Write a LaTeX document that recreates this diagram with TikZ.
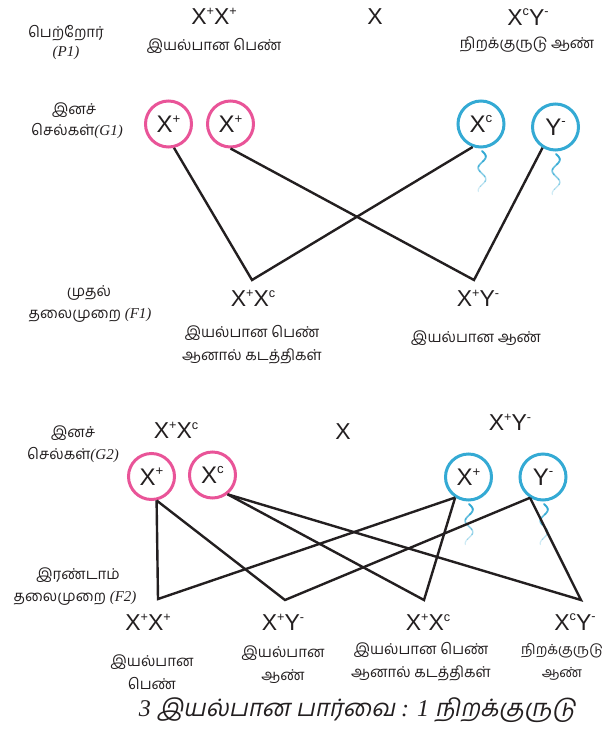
\documentclass[tikz,border=0pt]{standalone}
\usepackage{fontspec}
\setmainfont{Liberation Serif}
\newfontfamily\ta[Script=Tamil]{Hind Madurai}
\newfontfamily\tait[Script=Tamil,FakeSlant=0.2]{Hind Madurai}
\newfontfamily\ar{Liberation Sans}
\usetikzlibrary{calc}
\definecolor{pk}{RGB}{233,84,152}
\definecolor{bl}{RGB}{52,170,212}
\definecolor{ln}{RGB}{35,31,32}
\newcommand{\gsup}[1]{\raisebox{0.40em}{\scalebox{0.55}{#1}}}
\newcommand{\spermtail}[2]{%
  \foreach \i in {0,...,7}{%
    \pgfmathsetmacro{\op}{1-\i*0.11}%
    \pgfmathsetmacro{\lw}{1.9-\i*0.1}%
    \draw[bl, line width=\lw pt, opacity=\op, line cap=round]
      plot[domain={\i*5}:{\i*5+5.5}, samples=6, smooth] ({#1+3.8*sin(\x*16)}, {#2+\x});
  }%
}
\begin{document}
\begin{tikzpicture}[x=1pt, y=-1pt,
  geno/.style={font=\ar\fontsize{23}{25}\selectfont, inner sep=0pt, text=ln},
  tam/.style={font=\ta\fontsize{15}{17}\selectfont, align=center, inner sep=0pt, text=ln},
  egg/.style={circle, draw=pk, line width=3pt, minimum size=46pt, inner sep=0pt,
              font=\ar\fontsize{24}{26}\selectfont, text=ln},
  sperm/.style={egg, draw=bl},
  conn/.style={draw=ln, line width=2.4pt, line join=miter}]
\useasboundingbox (0,0) rectangle (605,731);

% ---- Parents
\node[tam] (p1a) at (66,33) {பெற்றோர்};
\node[tam] (p1b) at (66,53) {\itshape\rmfamily (P1)};
\node[geno] (pf) at (214,16) {X\gsup{+}X\gsup{+}};
\node[tam] (pfl) at (214,46) {இயல்பான பெண்};
\node[geno] (px) at (375,17) {X};
\node[geno] (pm) at (528,17) {X\gsup{c}Y\gsup{-}};
\node[tam] (pml) at (527,45) {நிறக்குருடு ஆண்};

% ---- G1
\node[tam] (g1l1) at (74,110) {இனச்};
\node[tam] (g1l2) at (77,131) {செல்கள்{\rmfamily\itshape(G1)}};
\node[egg] (g1a) at (168.5,124) {X\gsup{+}};
\node[egg] (g1b) at (230.5,124) {X\gsup{+}};
\node[sperm] (g1c) at (481,124) {X\gsup{c}};
\node[sperm] (g1d) at (555.5,127) {Y\gsup{-}};
\spermtail{482}{151}
\spermtail{556}{154}

% ---- F1
\coordinate (f1a) at (252,280);
\coordinate (f1b) at (474,280);
\draw[conn] (g1a.-77) -- (f1a) -- (g1c.-110);
\draw[conn] (g1b.-90) -- (f1b) -- (g1d.-122);
\node[tam] (f1l1) at (89,293) {முதல்};
\node[tam] (f1l2) at (90,315) {தலைமுறை {\rmfamily\itshape(F1)}};
\node[geno] (f1g1) at (253,298) {X\gsup{+}X\gsup{c}};
\node[tam] (f1t1) at (252,345) {இயல்பான பெண்\\[6pt]ஆனால் கடத்திகள்};
\node[geno] (f1g2) at (478,298) {X\gsup{+}Y\gsup{-}};
\node[tam] (f1t2) at (476,338) {இயல்பான ஆண்};

% ---- G2
\node[tam] (g2l1) at (73,433) {இனச்};
\node[tam] (g2l2) at (73,455) {செல்கள்{\rmfamily\itshape(G2)}};
\node[geno] (g2f) at (176,430) {X\gsup{+}X\gsup{c}};
\node[geno] (g2x) at (343,432) {X};
\node[geno] (g2m) at (510,422) {X\gsup{+}Y\gsup{-}};
\node[egg] (g2a) at (151.5,476.5) {X\gsup{+}};
\node[egg] (g2b) at (212.5,475) {X\gsup{c}};
\node[sperm] (g2c) at (468.5,477) {X\gsup{+}};
\node[sperm] (g2d) at (543,477) {Y\gsup{-}};
\spermtail{469}{504}
\spermtail{544}{504}

% ---- F2
\coordinate (f2a) at (158,599);
\coordinate (f2b) at (285,600);
\coordinate (f2c) at (424,600);
\coordinate (f2d) at (581,600);
\draw[conn] (g2a.-78) -- (f2a) -- (g2c.-123);
\draw[conn] (g2a.-78) -- (f2b) -- (g2d.-122);
\draw[conn] (g2b.-52) -- (f2c) -- (g2c.-123);
\draw[conn] (g2b.-52) -- (f2d) -- (g2d.-122);
\node[tam] (f2l1) at (78,575) {இரண்டாம்};
\node[tam] (f2l2) at (75,598) {தலைமுறை {\rmfamily\itshape(F2)}};
\node[geno] (o1) at (148,622) {X\gsup{+}X\gsup{+}};
\node[geno] (o2) at (283,622) {X\gsup{+}Y\gsup{-}};
\node[geno] (o3) at (428,622) {X\gsup{+}X\gsup{c}};
\node[geno] (o4) at (575,622) {X\gsup{c}Y\gsup{-}};
\node[tam] (o1t) at (152,672) {இயல்பான\\[6pt]பெண்};
\node[tam] (o2t) at (283,665) {இயல்பான\\[6pt]ஆண்};
\node[tam] (o3t) at (421,662) {இயல்பான பெண்\\[6pt]ஆனால் கடத்திகள்};
\node[tam, font=\ta\fontsize{14}{17}\selectfont] (o4t) at (562,662) {நிறக்குருடு\\[6pt]ஆண்};

% ---- Ratio
\node[inner sep=0pt, text=ln, font=\fontsize{24}{26}\selectfont] (ratio) at (357,710)
  {\itshape 3 {\tait இயல்பான பார்வை} : 1 {\tait நிறக்குருடு}};
\end{tikzpicture}
\end{document}
